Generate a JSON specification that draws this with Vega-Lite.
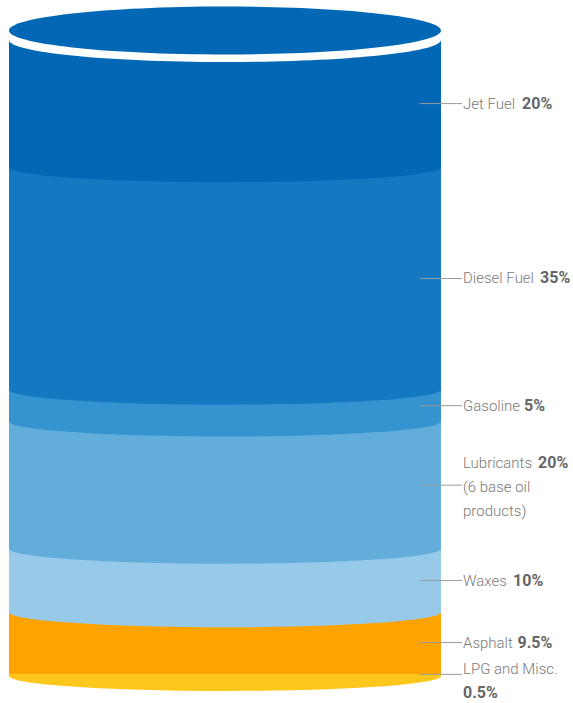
{
  "$schema": "https://vega.github.io/schema/vega-lite/v6.json",
  "width": 573,
  "height": 703,
  "padding": 0,
  "autosize": {"type": "none"},
  "background": "white",
  "config": {"view": {"stroke": null}},
  "datasets": {
    "products": [
      {"order": 1, "product": "Jet Fuel", "pct": 20},
      {"order": 2, "product": "Diesel Fuel", "pct": 35},
      {"order": 3, "product": "Gasoline", "pct": 5},
      {"order": 4, "product": "Lubricants", "pct": 20, "note": ["(6 base oil", "products)"]},
      {"order": 5, "product": "Waxes", "pct": 10},
      {"order": 6, "product": "Asphalt", "pct": 9.5},
      {"order": 7, "product": "LPG and Misc.", "pct": 0.5}
    ]
  },
  "data": {"name": "products"},
  "transform": [
    {"stack": "pct", "groupby": [], "sort": [{"field": "order", "order": "ascending"}], "as": ["y0", "y1"]}
  ],
  "layer": [
    {
      "mark": {"type": "rect"},
      "encoding": {
        "x": {"datum": 0, "type": "quantitative", "scale": {"domain": [-0.0208, 1.3056], "nice": false, "zero": false}, "axis": null},
        "x2": {"datum": 1},
        "y": {"field": "y0", "type": "quantitative", "scale": {"domain": [-6.29, 104.25], "reverse": true, "nice": false, "zero": false}, "axis": null},
        "y2": {"field": "y1"},
        "color": {"field": "product", "type": "nominal", "legend": null,
          "scale": {"domain": ["Jet Fuel", "Diesel Fuel", "Gasoline", "Lubricants", "Waxes", "Asphalt", "LPG and Misc."],
                    "range": ["#0267b4", "#1479c1", "#3593d0", "#63addb", "#97cae8", "#fea300", "#fdc71c"]}}
      }
    },
    {
      "mark": {"type": "point", "shape": "M-1,-0.009L-1,0C-1,0.0383,-0.5523,0.0694,0,0.0694C0.5523,0.0694,1,0.0383,1,0L1,-0.009Z", "size": 186624, "filled": true, "opacity": 1, "strokeWidth": 0},
      "encoding": {
        "x": {"datum": 0.5, "type": "quantitative", "scale": {"domain": [-0.0208, 1.3056], "nice": false, "zero": false}, "axis": null},
        "y": {"field": "y1", "type": "quantitative", "scale": {"domain": [-6.29, 104.25], "reverse": true, "nice": false, "zero": false}, "axis": null},
        "color": {"field": "product", "type": "nominal", "legend": null,
          "scale": {"domain": ["Jet Fuel", "Diesel Fuel", "Gasoline", "Lubricants", "Waxes", "Asphalt", "LPG and Misc."],
                    "range": ["#0267b4", "#1479c1", "#3593d0", "#63addb", "#97cae8", "#fea300", "#fdc71c"]}},
        "order": {"field": "order", "type": "quantitative"}
      }
    },
    {
      "data": {"values": [{"part": "rim"}]},
      "mark": {"type": "point", "shape": "M-1,-0.005L-1,0C-1,0.0563,-0.5523,0.102,0,0.102C0.5523,0.102,1,0.0563,1,0L1,-0.005Z", "size": 186624, "filled": true, "opacity": 1, "strokeWidth": 0, "color": "white"},
      "encoding": {
        "x": {"datum": 0.5, "type": "quantitative", "scale": {"domain": [-0.0208, 1.3056], "nice": false, "zero": false}, "axis": null},
        "y": {"datum": 0, "type": "quantitative", "scale": {"domain": [-6.29, 104.25], "reverse": true, "nice": false, "zero": false}, "axis": null}
      }
    },
    {
      "data": {"values": [{"part": "lid"}]},
      "mark": {"type": "point", "shape": "M-1,0C-1,-0.0613,-0.5523,-0.111,0,-0.111C0.5523,-0.111,1,-0.0613,1,0C1,0.0613,0.5523,0.111,0,0.111C-0.5523,0.111,-1,0.0613,-1,0Z", "size": 186624, "filled": true, "opacity": 1, "strokeWidth": 0, "color": "#0267b4"},
      "encoding": {
        "x": {"datum": 0.5, "type": "quantitative", "scale": {"domain": [-0.0208, 1.3056], "nice": false, "zero": false}, "axis": null},
        "y": {"datum": -1.5, "type": "quantitative", "scale": {"domain": [-6.29, 104.25], "reverse": true, "nice": false, "zero": false}, "axis": null}
      }
    },
    {
      "mark": {"type": "rule", "color": "#9a9a9a", "strokeWidth": 1, "y": {"expr": "(scale('y', datum.y0) + scale('y', datum.y1)) / 2"}},
      "encoding": {
        "x": {"datum": 0.951, "type": "quantitative", "scale": {"domain": [-0.0208, 1.3056], "nice": false, "zero": false}, "axis": null},
        "x2": {"datum": 1.049}
      }
    },
    {
      "mark": {"type": "text", "align": "left", "baseline": "middle", "font": "Roboto", "fontSize": 15, "fontWeight": 300, "color": "#7a7a7a",
        "y": {"expr": "(scale('y', datum.y0) + scale('y', datum.y1)) / 2"},
        "dy": {"expr": "isValid(datum.note) ? -22 : ((14.5*(0.545*length(datum.product)+0.07*length(replace(datum.product,regexp('[^A-Z]','g'),''))-0.3*length(replace(datum.product,regexp('[^ijl.]','g'),''))-0.21*length(replace(datum.product,regexp('[^ftr]','g'),''))-0.3*length(replace(datum.product,regexp('[^ ]','g'),''))+0.28*length(replace(datum.product,regexp('[^mwMW]','g'),'')))) > 85 ? -5 : 0)"}},
      "encoding": {
        "x": {"datum": 1.051, "type": "quantitative", "scale": {"domain": [-0.0208, 1.3056], "nice": false, "zero": false}, "axis": null},
        "text": {"field": "product", "type": "nominal"}
      }
    },
    {
      "mark": {"type": "text", "align": "left", "baseline": "middle", "font": "Roboto", "fontSize": 16, "fontWeight": 700, "color": "#666666",
        "y": {"expr": "(scale('y', datum.y0) + scale('y', datum.y1)) / 2"},
        "text": {"expr": "datum.pct + '%'"},
        "dx": {"expr": "(14.5*(0.545*length(datum.product)+0.07*length(replace(datum.product,regexp('[^A-Z]','g'),''))-0.3*length(replace(datum.product,regexp('[^ijl.]','g'),''))-0.21*length(replace(datum.product,regexp('[^ftr]','g'),''))-0.3*length(replace(datum.product,regexp('[^ ]','g'),''))+0.28*length(replace(datum.product,regexp('[^mwMW]','g'),'')))) > 85 ? 0 : (14.5*(0.545*length(datum.product)+0.07*length(replace(datum.product,regexp('[^A-Z]','g'),''))-0.3*length(replace(datum.product,regexp('[^ijl.]','g'),''))-0.21*length(replace(datum.product,regexp('[^ftr]','g'),''))-0.3*length(replace(datum.product,regexp('[^ ]','g'),''))+0.28*length(replace(datum.product,regexp('[^mwMW]','g'),'')))) + 5.5"},
        "dy": {"expr": "(isValid(datum.note) ? -22 : 0) + ((14.5*(0.545*length(datum.product)+0.07*length(replace(datum.product,regexp('[^A-Z]','g'),''))-0.3*length(replace(datum.product,regexp('[^ijl.]','g'),''))-0.21*length(replace(datum.product,regexp('[^ftr]','g'),''))-0.3*length(replace(datum.product,regexp('[^ ]','g'),''))+0.28*length(replace(datum.product,regexp('[^mwMW]','g'),'')))) > 85 ? 19 : 0)"}},
      "encoding": {
        "x": {"datum": 1.051, "type": "quantitative", "scale": {"domain": [-0.0208, 1.3056], "nice": false, "zero": false}, "axis": null}
      }
    },
    {
      "transform": [{"filter": "isValid(datum.note)"}],
      "mark": {"type": "text", "align": "left", "baseline": "middle", "font": "Roboto", "fontSize": 15, "fontWeight": 300, "color": "#7a7a7a", "lineHeight": 24,
        "y": {"expr": "(scale('y', datum.y0) + scale('y', datum.y1)) / 2"},
        "dy": 2},
      "encoding": {
        "x": {"datum": 1.051, "type": "quantitative", "scale": {"domain": [-0.0208, 1.3056], "nice": false, "zero": false}, "axis": null},
        "text": {"field": "note"}
      }
    }
  ]
}
